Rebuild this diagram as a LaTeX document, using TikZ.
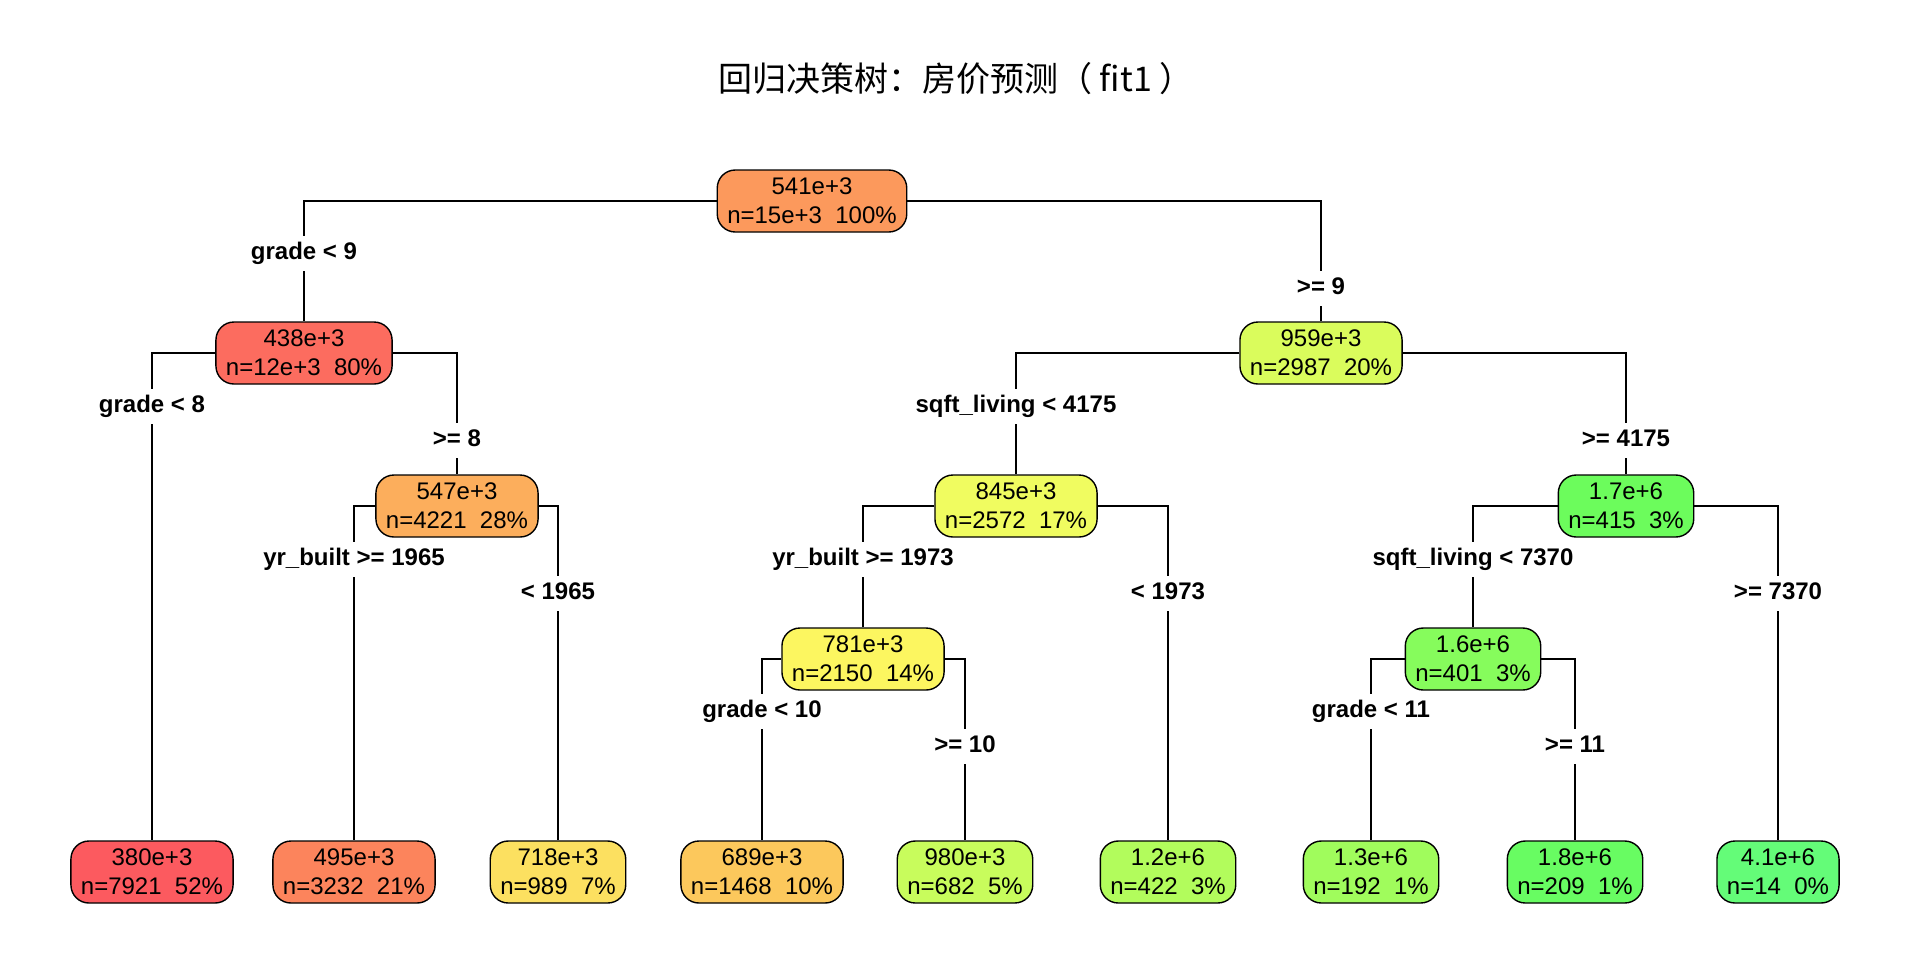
\documentclass[tikz,border=0pt]{standalone}
\usepackage{fontspec}
\setmainfont{Liberation Sans}
\newfontfamily\cjk{Noto Sans CJK SC}

\definecolor{c541}{HTML}{FC995C}
\definecolor{c438}{HTML}{FC6C5F}
\definecolor{c547}{HTML}{FCAE5C}
\definecolor{c380}{HTML}{FC5A5F}
\definecolor{c495}{HTML}{FC845C}
\definecolor{c718}{HTML}{FCE060}
\definecolor{c959}{HTML}{DAFC5C}
\definecolor{c845}{HTML}{F0FC60}
\definecolor{c781}{HTML}{FCF660}
\definecolor{c689}{HTML}{FCC85C}
\definecolor{c980}{HTML}{C8FC5C}
\definecolor{c12m}{HTML}{B2FC5C}
\definecolor{c17m}{HTML}{6CFC5C}
\definecolor{c16m}{HTML}{86FC5C}
\definecolor{c13m}{HTML}{A0FC5C}
\definecolor{c18m}{HTML}{68FC62}
\definecolor{c41m}{HTML}{64FC78}

\begin{document}
\begin{tikzpicture}[x=0.5pt, y=-0.5pt,
    box/.style = {draw, line width=0.7pt, rounded corners=9pt, align=center,
        inner xsep=5pt, inner ysep=0pt, minimum height=31pt,
        font=\fontsize{12}{14.5}\selectfont},
    lbl/.style = {fill=white, inner xsep=2pt, inner ysep=3pt, text height=9pt,
        text depth=2.5pt, font=\fontsize{12}{14}\selectfont\bfseries},
    edge/.style = {line width=0.6pt}]
    \fill[white] (0,0) rectangle (1920,960);
    \useasboundingbox (0,0) rectangle (1920,960);

    \node[font=\cjk\fontsize{17}{20}\selectfont] (title) at (956,79) {回归决策树：房价预测（ fit1 ）};

    % inner nodes
    \node[box, fill=c541] (root) at (812,201) {541e+3\\n=15e+3\ \ 100\%};
    \node[box, fill=c438] (n438) at (304,353) {438e+3\\n=12e+3\ \ 80\%};
    \node[box, fill=c959] (n959) at (1321,353) {959e+3\\n=2987\ \ 20\%};
    \node[box, fill=c547] (n547) at (457,506) {547e+3\\n=4221\ \ 28\%};
    \node[box, fill=c845] (n845) at (1016,506) {845e+3\\n=2572\ \ 17\%};
    \node[box, fill=c17m] (n17m) at (1626,506) {1.7e+6\\n=415\ \ 3\%};
    \node[box, fill=c781] (n781) at (863,659) {781e+3\\n=2150\ \ 14\%};
    \node[box, fill=c16m] (n16m) at (1473,659) {1.6e+6\\n=401\ \ 3\%};

    % leaves
    \node[box, fill=c380] (n380) at (152,872) {380e+3\\n=7921\ \ 52\%};
    \node[box, fill=c495] (n495) at (354,872) {495e+3\\n=3232\ \ 21\%};
    \node[box, fill=c718] (n718) at (558,872) {718e+3\\n=989\ \ 7\%};
    \node[box, fill=c689] (n689) at (762,872) {689e+3\\n=1468\ \ 10\%};
    \node[box, fill=c980] (n980) at (965,872) {980e+3\\n=682\ \ 5\%};
    \node[box, fill=c12m] (n12m) at (1168,872) {1.2e+6\\n=422\ \ 3\%};
    \node[box, fill=c13m] (n13m) at (1371,872) {1.3e+6\\n=192\ \ 1\%};
    \node[box, fill=c18m] (n18m) at (1575,872) {1.8e+6\\n=209\ \ 1\%};
    \node[box, fill=c41m] (n41m) at (1778,872) {4.1e+6\\n=14\ \ 0\%};

    \draw[edge] (root) -| (n438);
    \draw[edge] (root) -| (n959);
    \draw[edge] (n438) -| (n380);
    \draw[edge] (n438) -| (n547);
    \draw[edge] (n547) -| (n495);
    \draw[edge] (n547) -| (n718);
    \draw[edge] (n959) -| (n845);
    \draw[edge] (n959) -| (n17m);
    \draw[edge] (n845) -| (n781);
    \draw[edge] (n845) -| (n12m);
    \draw[edge] (n781) -| (n689);
    \draw[edge] (n781) -| (n980);
    \draw[edge] (n17m) -| (n16m);
    \draw[edge] (n17m) -| (n41m);
    \draw[edge] (n16m) -| (n13m);
    \draw[edge] (n16m) -| (n18m);

    % split labels
    \node[lbl] (s1l) at (304,253) {grade < 9};
    \node[lbl] (s1r) at (1321,288) {>= 9};
    \node[lbl] (s2l) at (152,406) {grade < 8};
    \node[lbl] (s2r) at (457,440) {>= 8};
    \node[lbl] (s3l) at (1016,406) {sqft\_living < 4175};
    \node[lbl] (s3r) at (1626,440) {>= 4175};
    \node[lbl] (s4l) at (354,559) {yr\_built >= 1965};
    \node[lbl] (s4r) at (558,593) {< 1965};
    \node[lbl] (s5l) at (863,559) {yr\_built >= 1973};
    \node[lbl] (s5r) at (1168,593) {< 1973};
    \node[lbl] (s6l) at (1473,559) {sqft\_living < 7370};
    \node[lbl] (s6r) at (1778,593) {>= 7370};
    \node[lbl] (s7l) at (762,711) {grade < 10};
    \node[lbl] (s7r) at (965,746) {>= 10};
    \node[lbl] (s8l) at (1371,711) {grade < 11};
    \node[lbl] (s8r) at (1575,746) {>= 11};

\end{tikzpicture}
\end{document}
